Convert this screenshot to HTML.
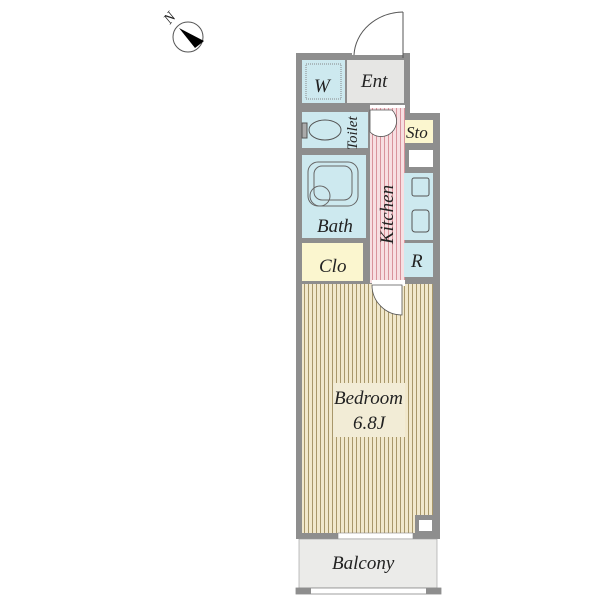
<!DOCTYPE html>
<html><head><meta charset="utf-8"><style>
html,body{margin:0;padding:0;background:#fff;}
svg{display:block}
text{font-family:"Liberation Serif",serif;font-style:italic;fill:#222}
</style></head><body>
<svg width="600" height="600" viewBox="0 0 600 600" xmlns="http://www.w3.org/2000/svg">
<defs>
<pattern id="bed" width="4" height="10" patternUnits="userSpaceOnUse">
<rect width="4" height="10" fill="#f1e8cc"/><rect x="0" width="1" height="10" fill="#a8976a"/>
</pattern>
<pattern id="kit" width="4" height="10" patternUnits="userSpaceOnUse">
<rect width="4" height="10" fill="#f7dfe2"/><rect x="0" width="1" height="10" fill="#d8939c"/>
</pattern>
</defs>
<!-- compass -->
<circle cx="188" cy="37" r="15" fill="#fff" stroke="#555" stroke-width="1"/>
<polygon points="179,28 204,41 195,48" fill="#000"/>
<text x="164" y="22" font-size="15" font-style="normal" transform="rotate(-50 170 17)">N</text>
<!-- outer walls -->
<rect x="296" y="53" width="114" height="70" fill="#8e8e8e"/>
<rect x="296" y="113" width="144" height="426" fill="#8e8e8e"/>
<!-- entrance door -->
<rect x="352" y="50" width="51" height="5" fill="#fff"/>
<path d="M403 12 A50 45 0 0 0 354 55" fill="none" stroke="#555" stroke-width="1"/>
<line x1="403" y1="12" x2="403" y2="58" stroke="#555"/>
<!-- W -->
<rect x="302" y="60" width="43" height="43" fill="#cde9ef"/>
<rect x="306" y="64" width="35" height="35" fill="none" stroke="#888" stroke-dasharray="1,1"/>
<text x="314" y="92" font-size="19">W</text>
<!-- Ent -->
<rect x="347" y="60" width="57" height="43" fill="#e6e6e4"/>
<text x="361" y="87" font-size="19">Ent</text>
<!-- kitchen corridor -->
<rect x="370" y="105" width="35" height="178" fill="url(#kit)"/>
<rect x="370" y="105" width="35" height="3" fill="#fff"/>
<path d="M370 110 h22 a15 15 0 0 1 -22 22 z" fill="#fff" stroke="#555" stroke-width="0.8"/>
<!-- Toilet -->
<rect x="302" y="112" width="66" height="36" fill="#cde9ef"/>
<ellipse cx="325" cy="130" rx="16" ry="10" fill="#cde9ef" stroke="#555"/>
<rect x="302" y="123" width="5" height="15" fill="#aaa" stroke="#555"/>
<text x="0" y="0" font-size="15" transform="translate(357 150) rotate(-90)">Toilet</text>
<!-- Sto -->
<rect x="405" y="120" width="28" height="23" fill="#fbf6cf"/>
<text x="406" y="138" font-size="17">Sto</text>
<rect x="409" y="150" width="24" height="17" fill="#fff"/>
<!-- kitchen counter -->
<rect x="404" y="173" width="29" height="67" fill="#cde9ef"/>
<rect x="412" y="178" width="17" height="18" rx="2" fill="none" stroke="#555"/>
<rect x="412" y="210" width="17" height="22" rx="3" fill="none" stroke="#555"/>
<!-- R -->
<rect x="404" y="243" width="29" height="34" fill="#cde9ef"/>
<text x="411" y="267" font-size="19">R</text>
<text x="0" y="0" font-size="19" transform="translate(393 244) rotate(-90)">Kitchen</text>
<!-- Bath -->
<rect x="302" y="155" width="64" height="83" fill="#cde9ef"/>
<rect x="308" y="162" width="50" height="44" rx="10" fill="none" stroke="#666"/>
<rect x="314" y="166" width="38" height="34" rx="8" fill="none" stroke="#666"/>
<circle cx="320" cy="196" r="10" fill="none" stroke="#666"/>
<text x="317" y="232" font-size="19">Bath</text>
<!-- Clo -->
<rect x="302" y="243" width="61" height="38" fill="#fbf6cf"/>
<text x="319" y="272" font-size="19">Clo</text>
<!-- Bedroom -->
<rect x="302" y="284" width="131" height="249" fill="url(#bed)"/>
<rect x="372" y="280" width="33" height="6" fill="#fff"/>
<path d="M372 285 v0 a30 30 0 0 0 30 30 v-30 z" fill="#fff" stroke="#555" stroke-width="0.8"/>
<rect x="415" y="515" width="25" height="24" fill="#8e8e8e"/>
<rect x="419" y="520" width="13" height="11" fill="#fff"/>
<rect x="333" y="383" width="72" height="54" fill="#f2ecd6"/>
<text x="334" y="404" font-size="19">Bedroom</text>
<text x="353" y="429" font-size="19">6.8J</text>
<!-- window -->
<rect x="338" y="533" width="75" height="6" fill="#fff" stroke="#888" stroke-width="0.6"/>
<!-- Balcony -->
<rect x="299" y="539" width="138" height="49" fill="#ebebe9" stroke="#999" stroke-width="0.6"/>
<text x="332" y="569" font-size="19">Balcony</text>
<rect x="296" y="588" width="145" height="6" fill="#fff" stroke="#888" stroke-width="0.8"/>
<rect x="296" y="588" width="15" height="6" fill="#8e8e8e"/>
<rect x="426" y="588" width="15" height="6" fill="#8e8e8e"/>
</svg>
</body></html>
